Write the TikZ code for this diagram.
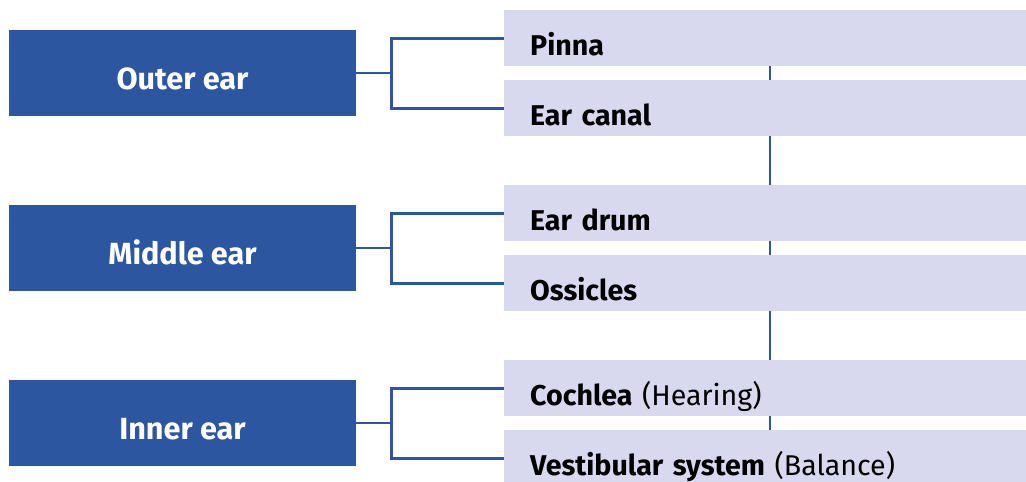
\documentclass[tikz,border=0pt]{standalone}
\usepackage{fontspec}
\setmainfont{Fira Sans}
\usetikzlibrary{backgrounds}
\definecolor{earblue}{HTML}{2C56A0}
\definecolor{earlilac}{HTML}{D8D9EE}

\begin{document}
\begin{tikzpicture}[x=1pt, y=-1pt,
	part/.style={fill=earblue, text=white, font=\fontsize{30.6}{33}\selectfont\bfseries, minimum width=347pt, minimum height=86pt, text height=32pt, text depth=0pt, inner sep=0pt},
	piece/.style={fill=earlilac, anchor=north west, font=\fontsize{28.6}{31}\selectfont, text width=480pt, align=left, inner xsep=26pt, inner ysep=0pt, minimum height=56pt, text height=35pt, text depth=0pt},
	link/.style={earblue, line width=2.8pt}]
	\useasboundingbox (0,0) rectangle (1026,482);
	\clip (0,0) rectangle (1026,482);
	\node[part] (outer) at (182.5,73) {Outer ear};
	\node[part] (middle) at (182.5,248) {Middle ear};
	\node[part] (inner) at (182.5,423) {Inner ear};
	\node[piece] (pinna) at (504,10) {\textbf{Pinna}};
	\node[piece] (canal) at (504,80) {\textbf{Ear canal}};
	\node[piece] (drum) at (504,185) {\textbf{Ear drum}};
	\node[piece] (ossicles) at (504,255) {\textbf{Ossicles}};
	\node[piece] (cochlea) at (504,360) {\textbf{Cochlea} (Hearing)};
	\node[piece] (vestibular) at (504,430) {\textbf{Vestibular system} (Balance)};
	\coordinate (spine) at (770,0);
	\begin{scope}[on background layer]
		\draw[link] (pinna.north -| spine) -- (vestibular.south -| spine);
	\end{scope}
	\draw[link] (outer.east) -- ++(35,0) coordinate (o) |- (pinna.west);
	\draw[link] (o) |- (canal.west);
	\draw[link] (middle.east) -- ++(35,0) coordinate (m) |- (drum.west);
	\draw[link] (m) |- (ossicles.west);
	\draw[link] (inner.east) -- ++(35,0) coordinate (i) |- (cochlea.west);
	\draw[link] (i) |- (vestibular.west);
\end{tikzpicture}
\end{document}
